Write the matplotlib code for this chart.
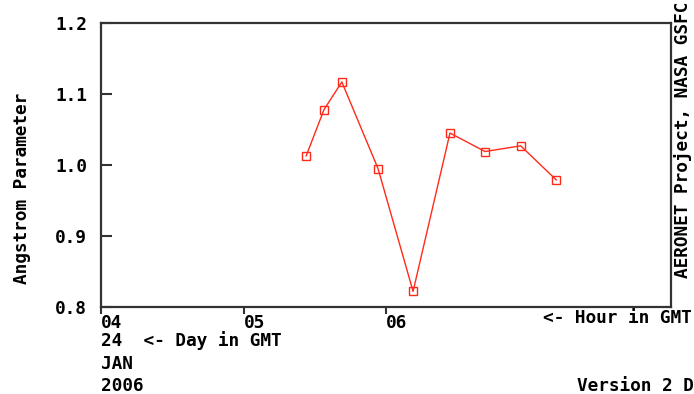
import numpy as np
import matplotlib.pyplot as plt

# hour of day (GMT, 24 Jan 2006) and angstrom parameter
hours = [5.44, 5.565, 5.69, 5.944, 6.19, 6.449, 6.695, 6.945, 7.195]
angstrom = [1.013, 1.078, 1.117, 0.995, 0.822, 1.045, 1.019, 1.027, 0.979]

yticks = [0.8, 0.9, 1.0, 1.1, 1.2]
xticks = [4, 5, 6]
xticklabels = ["04", "05", "06"]

W, H = 694, 394
fnt = dict(family="DejaVu Sans Mono", weight="bold", size=12.8)


def px(x, y):
    # pixel coordinates (from top-left) -> figure fraction
    return x / W, 1 - y / H


fig = plt.figure(figsize=(W / 100, H / 100), dpi=100)
ax = fig.add_axes([101 / W, (H - 307) / H, 570 / W, 284 / H])

ax.plot(hours, angstrom, "-", color="#ff2a1a", lw=1.0, marker="s", ms=6,
        mfc="none", mec="#ff2a1a", mew=1.0)

ax.set_xlim(4, 8)
ax.set_ylim(0.8, 1.2)
ax.set_yticks(yticks)
ax.set_yticklabels(["%.1f" % v for v in yticks], **fnt)
ax.set_xticks(xticks)
ax.set_xticklabels(xticklabels, ha="left", va="center_baseline", **fnt)
ax.tick_params(axis="y", direction="in", length=8, width=1.5, color="#333333", pad=10)
ax.tick_params(axis="x", direction="out", length=5, width=1.5, color="#333333", pad=5)
for s in ax.spines.values():
    s.set_linewidth(1.6)
    s.set_color("#333333")

fig.text(*px(22, 188), "Angstrom Parameter", rotation=90, ha="center", va="center", **fnt)
fig.text(*px(683, 2), "AERONET Project, NASA GSFC", rotation=90, ha="center", va="top", **fnt)
fig.text(*px(543, 318), "<- Hour in GMT", ha="left", va="center", **fnt)
fig.text(*px(101, 341), "24  <- Day in GMT", ha="left", va="center", **fnt)
fig.text(*px(101, 364), "JAN", ha="left", va="center", **fnt)
fig.text(*px(101, 386), "2006", ha="left", va="center", **fnt)
fig.text(*px(577, 386), "Version 2 D", ha="left", va="center", **fnt)

fig.savefig("out.png", dpi=100)
